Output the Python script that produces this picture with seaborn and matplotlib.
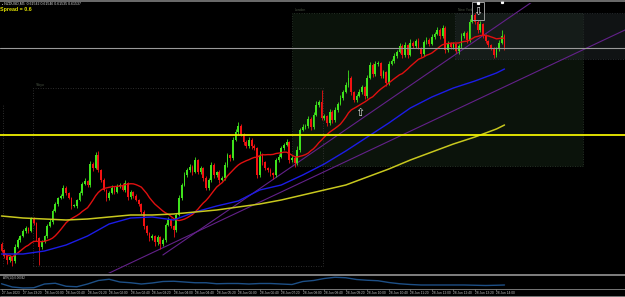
import numpy as np
import pandas as pd
import seaborn as sns
import matplotlib.pyplot as plt
from matplotlib.patches import Rectangle
from matplotlib.lines import Line2D

# NZDUSD M5 candles, price in points (0 = bottom of the visible range)
close = [23, 17, 13, 16, 12, 26, 33, 37, 42, 45,
         42, 54, 50, 35, 26, 31, 37, 47, 51, 62,
         69, 75, 77, 85, 80, 75, 67, 67, 73,
         80, 89, 92, 88, 109, 105, 118, 103, 93, 83,
         75, 80, 85, 81, 87, 88, 83, 90, 76,
         81, 77, 73, 69, 61, 47, 40, 35, 37, 31,
         36, 29, 33, 48, 53, 47, 43, 58, 75,
         88, 98, 103, 106, 101, 113, 101, 105, 95, 85,
         93, 108, 98, 101, 93, 95, 108, 118, 115, 133,
         141, 147, 139, 131, 127, 133, 127, 125, 98,
         118, 111, 105, 103, 100, 98, 113, 116, 125, 128,
         131, 113, 115, 110, 123, 143, 146, 147, 154,
         146, 158, 168, 171, 155, 157, 150, 161, 153, 163,
         169, 175, 181, 188, 195, 181, 173, 177, 181, 186,
         177, 195, 208, 199, 209, 210, 197, 201, 190,
         209, 212, 217, 221, 227, 218, 228, 218, 230, 227,
         232, 225, 219, 231, 233, 229, 236, 239, 243, 237,
         245, 223, 230, 226, 229, 222, 227, 237, 240,
         233, 251, 258, 251, 243, 249, 237, 232, 228, 225,
         218, 224, 230, 237, 226]
open_first = 29
wick_up = [2, 1, 1, 2, 1, 3, 2, 1, 2, 2,
           1, 2, 2, 1, 1, 2, 1, 2, 3, 2,
           2, 1, 2, 3, 2, 1, 1, 2, 1,
           2, 2, 3, 1, 3, 2, 3, 4, 1, 2,
           1, 2, 3, 2, 2, 2, 2, 3, 1,
           2, 1, 2, 1, 1, 2, 1, 1, 2, 1,
           2, 1, 2, 2, 3, 2, 1, 2, 3,
           2, 3, 2, 3, 2, 3, 1, 2, 1, 2,
           2, 3, 2, 1, 2, 2, 3, 2, 1, 3,
           3, 4, 2, 1, 2, 3, 2, 2, 1,
           4, 2, 1, 1, 2, 1, 2, 3, 2, 2,
           3, 1, 2, 2, 4, 2, 3, 2, 3,
           2, 3, 4, 2, 12, 2, 1, 3, 2, 3,
           2, 3, 2, 3, 8, 2, 1, 2, 3, 2,
           1, 3, 3, 2, 3, 2, 1, 2, 1,
           3, 2, 3, 2, 3, 2, 3, 1, 4, 2,
           2, 3, 1, 2, 3, 2, 3, 2, 3, 2,
           3, 2, 2, 1, 2, 1, 2, 3, 2,
           2, 3, 3, 2, 2, 3, 1, 2, 1, 1,
           1, 2, 3, 6, 2]
wick_dn = [2, 2, 4, 2, 5, 2, 1, 2, 1, 2,
           2, 1, 2, 3, 18, 2, 1, 2, 1, 2,
           1, 2, 1, 2, 2, 1, 3, 1, 2,
           1, 2, 1, 2, 2, 3, 1, 2, 2, 1,
           3, 2, 1, 2, 1, 2, 1, 2, 3,
           2, 2, 1, 2, 2, 3, 2, 3, 2, 4,
           3, 5, 2, 2, 1, 2, 7, 2, 1,
           2, 1, 2, 2, 3, 1, 2, 2, 3, 2,
           2, 2, 3, 2, 3, 1, 2, 2, 3, 2,
           1, 2, 2, 3, 2, 2, 3, 2, 3,
           2, 3, 2, 2, 3, 4, 2, 2, 1, 2,
           1, 3, 2, 4, 2, 2, 1, 2, 2,
           3, 2, 1, 2, 2, 2, 3, 2, 3, 2,
           2, 1, 2, 1, 2, 3, 2, 2, 1, 2,
           3, 2, 1, 3, 2, 2, 2, 2, 3,
           2, 1, 2, 2, 1, 3, 2, 3, 1, 2,
           2, 1, 3, 2, 2, 2, 1, 2, 1, 3,
           2, 3, 2, 2, 2, 2, 3, 2, 2,
           3, 2, 1, 2, 3, 2, 2, 2, 2, 2,
           3, 2, 2, 1, 3]

# slow moving averages (blue, yellow), read every 8 bars
ma_bars = list(range(0, 185, 8)) + [187]
ma_blue = [19, 19, 22, 28, 37, 49, 55, 56, 53, 61, 67, 72, 83, 88, 98,
           109, 122, 136, 150, 165, 176, 185, 192, 200, 204]
ma_yellow = [57, 55, 54, 53, 54, 56, 58, 58, 59, 61, 63, 66, 69, 73, 78,
             83, 88, 96, 104, 113, 121, 129, 136, 144, 148]

# ATR sub window, read every 4 bars (points)
atr_bars = list(range(0, 185, 4)) + [187]
atr = [41, 28, 24, 25, 40, 43, 31, 29, 40, 54, 59, 48, 45, 40, 44, 50,
       51, 48, 45, 45, 41, 42, 42, 40, 42, 42, 40, 38, 50, 54, 62, 67,
       65, 58, 55, 53, 46, 41, 38, 36, 36, 36, 36, 36, 35, 34, 35, 36]

tick_bars = list(range(0, 185, 8))
time_labels = ['27 Jun 2023', '27 Jun 23:20', '28 Jun 00:00', '28 Jun 00:40',
               '28 Jun 01:20', '28 Jun 02:00', '28 Jun 02:40', '28 Jun 03:20',
               '28 Jun 04:00', '28 Jun 04:40', '28 Jun 05:20', '28 Jun 06:00',
               '28 Jun 06:40', '28 Jun 07:20', '28 Jun 08:00', '28 Jun 08:40',
               '28 Jun 09:20', '28 Jun 10:00', '28 Jun 10:40', '28 Jun 11:20',
               '28 Jun 12:00', '28 Jun 12:40', '28 Jun 13:20', '28 Jun 14:00']

level_silver = 225
level_yellow = 138

# session boxes: name -> (first bar, last bar, low, high)
sessions = {'Tokyo': (11.7, 119.5, 7, 185),
            'London': (108.0, 216.2, 107, 260),
            'New York': (168.6, 240.0, 214, 260)}
sydney_bar = 0.56
# trend lines, two anchors (bar, price), drawn as rays
trend_lines = [((60.0, 18), (198.3, 273)),
               ((38.5, -2), (231.8, 243))]
arrow_up = (133.3, 160)
arrow_down = (177.1, 261)

sns.set_theme(style='dark', rc={'axes.facecolor': 'black', 'figure.facecolor': 'black'})
plt.rcParams['font.family'] = ['Liberation Sans', 'DejaVu Sans']

W, H = 625, 297
XMIN, XMAX = -0.558, 231.8
fig = plt.figure(figsize=(W / 100, H / 100), dpi=100, facecolor='black')
ax = fig.add_axes([0, 24 / H, 1, 270 / H])
axi = fig.add_axes([0, 8 / H, 1, 13 / H])
for a in (ax, axi):
    a.set_facecolor('black')
    a.grid(False)
    for s in a.spines.values():
        s.set_visible(False)
    a.set_xlim(XMIN, XMAX)
ax.set_ylim(0, 270)
axi.set_ylim(20, 72)

# session boxes
t0, t1, tl, th = sessions['Tokyo']
ax.add_patch(Rectangle((t0, tl), t1 - t0, th - tl, fill=False, ec='#3c3c3c',
                       lw=0.6, ls=(0, (1, 2)), zorder=0.7))
l0, l1, ll, lh = sessions['London']
ax.add_patch(Rectangle((l0, ll), l1 - l0, lh - ll, fc='#0b130b', ec='#2f3d2f',
                       lw=0.6, ls=(0, (1, 2)), zorder=0.5))
n0, n1, nl, nh = sessions['New York']
ax.add_patch(Rectangle((n0, nl), n1 - n0, nh - nl, fc=(0.12, 0.14, 0.15, 0.55),
                       ec='#2c3236', lw=0.6, ls=(0, (1, 2)), zorder=0.6))
ax.plot([sydney_bar, sydney_bar], [7, 168], color='#3c3c3c', lw=0.6,
        ls=(0, (1, 2)), zorder=0.7)
for name, (b0, b1, lo_, hi_) in sessions.items():
    ax.text(b0 + 1, hi_ + 1, name, fontsize=2.4, color='#4a5444', va='bottom',
            zorder=1, clip_on=False)

# trend lines (rays)
for (x1, y1), (x2, y2) in trend_lines:
    m = (y2 - y1) / (x2 - x1)
    ax.plot([x1, XMAX], [y1, y1 + m * (XMAX - x1)], color='#63218a', lw=0.8, zorder=2)

# candles
n = len(close)
bars = np.arange(n)
c = np.array(close, dtype=float)
o = np.concatenate([[open_first], c[:-1]])
hi = np.maximum(o, c) + np.array(wick_up)
lo = np.minimum(o, c) - np.array(wick_dn)
colors = np.where(c >= o, '#3fe21c', '#f21212')
ax.vlines(bars, lo, hi, colors=colors, lw=0.6, zorder=3)
ax.bar(bars, np.maximum(np.abs(c - o), 0.8), bottom=np.minimum(o, c), width=0.66,
       color=colors, lw=0, zorder=3)

# moving averages
ma_red = pd.Series(c).rolling(20, min_periods=1).mean()
sns.lineplot(x=bars, y=ma_red, ax=ax, color='#e01010', lw=1.0, zorder=4)
sns.lineplot(x=ma_bars, y=ma_blue, ax=ax, color='#1c1ce6', lw=1.0, zorder=4)
sns.lineplot(x=ma_bars, y=ma_yellow, ax=ax, color='#c8c81e', lw=1.1, zorder=4)

# horizontal levels
ax.axhline(level_silver, color='#9a9a9a', lw=0.8, zorder=5)
ax.axhline(level_yellow, color='#f0f000', lw=1.3, zorder=5)

# arrows
ax.text(*arrow_up, '\u21e7', ha='center', va='center', fontsize=8,
        color='#e6e6e6', zorder=6)
ax.text(*arrow_down, '\u21e9', ha='center', va='center', fontsize=8,
        color='#e6e6e6', zorder=6)
ax.add_patch(Rectangle((arrow_down[0] - 2.3, arrow_down[1] - 8), 4.6, 18, fill=False,
                       ec='#9a9a9a', lw=0.7, zorder=6, clip_on=False))
ax.plot(arrow_down[0], arrow_down[1] + 9.5, 's', ms=1.3, color='white',
        zorder=7, clip_on=False)
ax.plot(186.1, 271, 's', ms=1.3, color='white', zorder=7, clip_on=False)
ax.set_xticks([])
ax.set_yticks([])
ax.set_xlabel('')
ax.set_ylabel('')

# ATR window
sns.lineplot(x=atr_bars, y=atr, ax=axi, color='#1d4f86', lw=1.0)
axi.set_yticks([])
axi.set_ylabel('')
axi.set_xticks(tick_bars)
axi.set_xticklabels(time_labels, ha='left', fontsize=2.3, color='#c4c4c4')
axi.tick_params(axis='x', length=1.2, width=0.4, color='#9a9a9a', pad=0.6,
                bottom=True)
axi.text(0.5, 66, 'ATR(14) 0.00042', fontsize=2.1, color='#c4c4c4', va='center')

# header texts
fig.text(2 / W, 1 - 4 / H, '\u25aa NZDUSD,M5  0.61542 0.61546 0.61535 0.61537',
         fontsize=2.5, color='#d8d8d8', va='center')
fig.text(0.5 / W, 1 - 9.5 / H, 'Spread = 0.6', fontsize=3.8, fontweight='bold',
         color='#e6e600', va='center')

# window frame lines
for yp, lw in [(0.6, 1.1), (275, 1.3), (289, 0.6), (296.4, 0.6)]:
    fig.add_artist(Line2D([0, 1], [1 - yp / H] * 2, transform=fig.transFigure,
                          color='#8a8a8a', lw=lw))

fig.savefig('out.png', dpi=100, facecolor='black')
